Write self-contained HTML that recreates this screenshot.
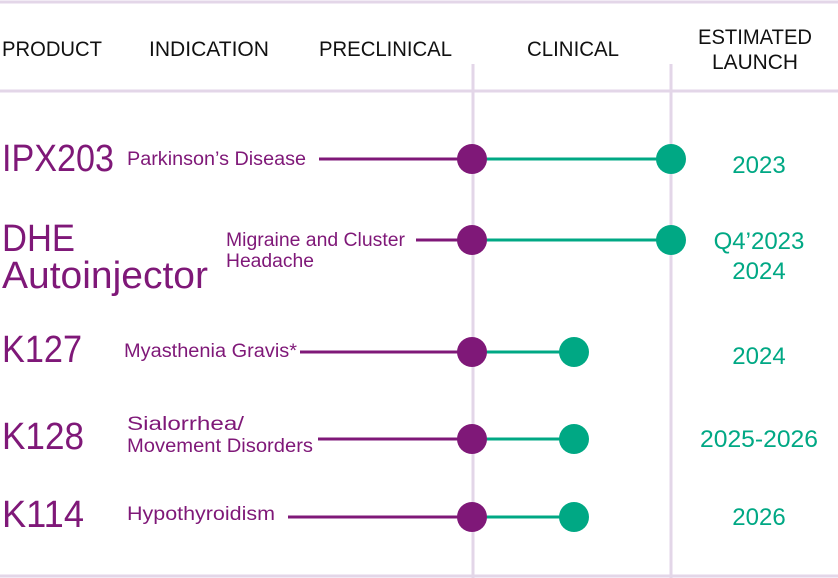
<!DOCTYPE html>
<html><head><meta charset="utf-8"><style>
body{margin:0;background:#fff}
svg{display:block}
text{font-family:"Liberation Sans",sans-serif}
.h{font-size:21px;fill:#111}
.p{font-size:38px;fill:#7f1878}
.i{font-size:19px;fill:#7f1878}
.l{font-size:24px;fill:#00a884;text-anchor:middle}
</style></head><body>
<svg width="838" height="578" viewBox="0 0 838 578">
<g stroke="#e3d6e8" stroke-width="3">
<line x1="0" y1="2" x2="838" y2="2"/>
<line x1="0" y1="91" x2="838" y2="91"/>
<line x1="0" y1="576" x2="838" y2="576"/>
<line x1="473" y1="64" x2="473" y2="578"/>
<line x1="671" y1="64" x2="671" y2="578"/>
</g>
<g lengthAdjust="spacingAndGlyphs">
<text class="h" x="2" y="56" textLength="100" lengthAdjust="spacingAndGlyphs">PRODUCT</text>
<text class="h" x="149" y="56" textLength="120" lengthAdjust="spacingAndGlyphs">INDICATION</text>
<text class="h" x="319" y="56" textLength="133" lengthAdjust="spacingAndGlyphs">PRECLINICAL</text>
<text class="h" x="527" y="56" textLength="92" lengthAdjust="spacingAndGlyphs">CLINICAL</text>
<text class="h" x="698" y="44" textLength="114" lengthAdjust="spacingAndGlyphs">ESTIMATED</text>
<text class="h" x="712" y="69" textLength="86" lengthAdjust="spacingAndGlyphs">LAUNCH</text>
</g>
<g stroke-width="3">
<line x1="319" y1="159" x2="473" y2="159" stroke="#7f1878"/><line x1="473" y1="159" x2="671" y2="159" stroke="#00a884"/>
<line x1="416" y1="240" x2="473" y2="240" stroke="#7f1878"/><line x1="473" y1="240" x2="671" y2="240" stroke="#00a884"/>
<line x1="300" y1="352" x2="473" y2="352" stroke="#7f1878"/><line x1="473" y1="352" x2="574" y2="352" stroke="#00a884"/>
<line x1="318" y1="439" x2="473" y2="439" stroke="#7f1878"/><line x1="473" y1="439" x2="574" y2="439" stroke="#00a884"/>
<line x1="288" y1="517" x2="473" y2="517" stroke="#7f1878"/><line x1="473" y1="517" x2="574" y2="517" stroke="#00a884"/>
</g>
<g fill="#7f1878"><circle cx="472" cy="159" r="15"/><circle cx="472" cy="240" r="15"/><circle cx="472" cy="352" r="15"/><circle cx="472" cy="439" r="15"/><circle cx="472" cy="517" r="15"/></g>
<g fill="#00a884"><circle cx="671" cy="159" r="15"/><circle cx="671" cy="240" r="15"/><circle cx="574" cy="352" r="15"/><circle cx="574" cy="439" r="15"/><circle cx="574" cy="517" r="15"/></g>

<text class="p" x="2" y="171" textLength="112" lengthAdjust="spacingAndGlyphs">IPX203</text>
<text class="p" x="2" y="251" textLength="73" lengthAdjust="spacingAndGlyphs">DHE</text>
<text class="p" x="2" y="288" textLength="206" lengthAdjust="spacingAndGlyphs">Autoinjector</text>
<text class="p" x="2" y="362" textLength="80" lengthAdjust="spacingAndGlyphs">K127</text>
<text class="p" x="2" y="449" textLength="82" lengthAdjust="spacingAndGlyphs">K128</text>
<text class="p" x="2" y="527" textLength="82" lengthAdjust="spacingAndGlyphs">K114</text>

<text class="i" x="127" y="165" textLength="179" lengthAdjust="spacingAndGlyphs">Parkinson’s Disease</text>
<text class="i" x="226" y="246" textLength="179" lengthAdjust="spacingAndGlyphs">Migraine and Cluster</text>
<text class="i" x="226" y="267" textLength="88" lengthAdjust="spacingAndGlyphs">Headache</text>
<text class="i" x="124" y="357" textLength="173" lengthAdjust="spacingAndGlyphs">Myasthenia Gravis*</text>
<text class="i" x="127" y="430" textLength="117" lengthAdjust="spacingAndGlyphs">Sialorrhea/</text>
<text class="i" x="127" y="452" textLength="186" lengthAdjust="spacingAndGlyphs">Movement Disorders</text>
<text class="i" x="127" y="520" textLength="148" lengthAdjust="spacingAndGlyphs">Hypothyroidism</text>

<text class="l" x="759" y="173">2023</text>
<text class="l" x="759" y="249">Q4’2023</text>
<text class="l" x="759" y="279">2024</text>
<text class="l" x="759" y="364">2024</text>
<text class="l" x="759" y="447" textLength="118" lengthAdjust="spacingAndGlyphs">2025-2026</text>
<text class="l" x="759" y="525">2026</text>
</svg>
</body></html>
